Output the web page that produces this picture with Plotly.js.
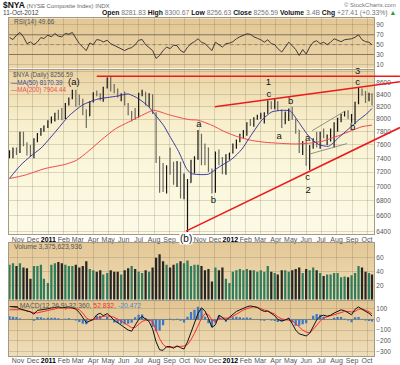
<!DOCTYPE html>
<html><head><meta charset="utf-8">
<script src="https://cdn.plot.ly/plotly-3.0.1.min.js"></script>
<style>html,body{margin:0;padding:0;background:#fff}#chart{width:400px;height:365px}</style>
</head><body><div id="chart"></div>
<script>
// ---------- DATA (weekly readings from the picture) ----------
const weeks = ['2010-10-15','2010-10-22','2010-10-29','2010-11-05','2010-11-12','2010-11-19','2010-11-26','2010-12-03','2010-12-10','2010-12-17','2010-12-23','2010-12-31',
'2011-01-07','2011-01-14','2011-01-21','2011-01-28','2011-02-04','2011-02-11','2011-02-18','2011-02-25','2011-03-04','2011-03-11','2011-03-18','2011-03-25',
'2011-04-01','2011-04-08','2011-04-15','2011-04-21','2011-04-29','2011-05-06','2011-05-13','2011-05-20','2011-05-27','2011-06-03','2011-06-10','2011-06-17',
'2011-06-24','2011-07-01','2011-07-08','2011-07-15','2011-07-22','2011-07-29','2011-08-05','2011-08-12','2011-08-19','2011-08-26','2011-09-02','2011-09-09',
'2011-09-16','2011-09-23','2011-09-30','2011-10-07','2011-10-14','2011-10-21','2011-10-28','2011-11-04','2011-11-11','2011-11-18','2011-11-25','2011-12-02',
'2011-12-09','2011-12-16','2011-12-23','2011-12-30','2012-01-06','2012-01-13','2012-01-20','2012-01-27','2012-02-03','2012-02-10','2012-02-17','2012-02-24',
'2012-03-02','2012-03-09','2012-03-16','2012-03-23','2012-03-30','2012-04-05','2012-04-13','2012-04-20','2012-04-27','2012-05-04','2012-05-11','2012-05-18',
'2012-05-25','2012-06-01','2012-06-08','2012-06-15','2012-06-22','2012-06-29','2012-07-06','2012-07-13','2012-07-20','2012-07-27','2012-08-03','2012-08-10',
'2012-08-17','2012-08-24','2012-08-31','2012-09-07','2012-09-14','2012-09-21','2012-09-28','2012-10-05','2012-10-11'];

const priceOpen = [7450,7480,7500,7490,7790,7600,7560,7440,7690,7760,7830,7890,
7964,7980,8090,8030,8020,8250,8340,8470,8330,8300,8150,8050,
8280,8420,8400,8350,8520,8680,8520,8450,8390,8400,8240,8080,
8080,8030,8420,8440,8260,8400,8100,7420,7220,6980,7260,7210,
7060,7330,6880,6900,7050,7360,7400,7760,7560,7550,7240,6920,
7470,7400,7210,7450,7480,7580,7650,7760,7800,7940,7930,8010,
8050,8060,8090,8280,8200,8240,8150,7980,8050,8150,8000,7830,
7500,7620,7300,7580,7690,7600,7790,7720,7740,7740,7930,8010,
8070,8110,8060,8070,8270,8490,8440,8340,8400];
const priceHigh = [7520,7560,7560,7800,7800,7640,7600,7700,7780,7860,7900,7980,
8040,8100,8150,8180,8260,8350,8480,8480,8400,8330,8160,8290,
8440,8470,8420,8530,8690,8718,8580,8500,8420,8450,8260,8130,
8180,8430,8480,8440,8420,8400,8110,7430,7330,7300,7560,7350,
7360,7350,7180,7100,7380,7430,7830,7770,7620,7560,7250,7500,
7530,7420,7460,7480,7620,7680,7770,7830,7950,8000,8030,8070,
8100,8110,8300,8290,8340,8290,8150,8120,8170,8200,8000,7830,
7660,7660,7600,7700,7800,7800,7850,7760,7850,7950,8020,8080,
8130,8140,8080,8280,8510,8500,8460,8430,8420];
const priceLow = [7400,7400,7450,7480,7580,7440,7420,7400,7640,7740,7800,7860,
7930,7960,7990,7980,8000,8220,8320,8200,8220,8060,7860,8050,
8270,8370,8300,8280,8500,8450,8420,8350,8290,8220,8060,7960,
7990,8030,8370,8220,8200,8080,7330,6910,6920,6900,7160,7020,
6990,6830,6820,6390,7050,7180,7380,7300,7300,7200,6900,6910,
7300,7170,7160,7380,7470,7540,7640,7700,7740,7890,7880,7990,
8000,7930,8090,8160,8160,8130,7860,7920,7970,7990,7770,7480,
7450,7290,7230,7540,7560,7540,7700,7600,7650,7560,7800,7950,
8040,8000,7940,7920,8240,8380,8260,8290,8220];
const priceClose = [7480,7500,7490,7790,7600,7560,7440,7690,7760,7830,7890,7964,
7980,8090,8030,8020,8250,8340,8470,8330,8300,8150,8050,8280,
8420,8400,8350,8520,8680,8520,8450,8390,8400,8240,8080,8080,
8030,8420,8440,8260,8400,8100,7420,7220,6980,7260,7210,7060,
7330,6880,6900,7050,7360,7400,7760,7560,7550,7240,6920,7470,
7400,7210,7450,7480,7580,7650,7760,7800,7940,7930,8010,8050,
8060,8090,8280,8200,8240,8150,7980,8050,8150,8000,7830,7500,
7620,7300,7580,7690,7600,7790,7720,7740,7740,7930,8010,8070,
8110,8060,8070,8270,8490,8440,8340,8400,8256.59];

const rsi14 = [64.5,60.4,69.3,74.8,65.7,52,55.4,50,55.4,64.5,62.4,69.3,
65.7,72.8,67.2,66,72.8,71.3,74.8,62.4,52,45,38,53.3,
50,60.4,58.9,55.4,58.9,52,48.6,45,42,38,41.7,44,
50,58.9,60.4,50,44,38,22,28,38,45,42,48.6,
48,38,34,45,52,56,62,55,52,45,38,55,
50,45,52,53,56,62,66,69,72,71,66,63,
60,55,60,52,50,42,35,45,55,48,40,28,
40,31,45,55,58,52,55,50,55,62,59,56,
60,61,62,65,70,60,56,55,49.66];

const volume = [50,52,48,52,46,45,30,48,48,50,30,24,
50,52,54,52,50,48,48,50,46,48,55,44,
42,40,42,36,38,42,40,40,36,42,45,48,
44,40,38,42,40,46,60,65,55,50,46,50,
52,55,52,56,48,50,50,48,42,44,26,46,
42,46,30,24,40,42,44,42,44,42,42,40,
42,40,48,40,38,36,42,42,40,42,44,46,
38,44,42,46,42,38,34,36,36,38,38,32,
33,32,35,38,48,46,40,38,36];

const macdLine = [121,118,115,100,88,80,72,50,85,90,90,100,
108,116,118,110,115,118,110,95,65,20,-30,-15,
0,44,58,35,55,25,-8,-30,-55,-80,-100,-110,
-55,0,28,5,-20,-90,-210,-285,-290,-255,-255,-270,
-248,-265,-278,-210,-120,-40,55,110,80,10,-75,-50,
40,20,-10,20,50,75,90,105,118,127,122,112,
90,75,78,55,35,0,-15,-5,10,-40,-100,-135,
-145,-155,-130,-60,-5,30,40,30,40,60,78,90,
82,65,44,95,118,95,78,58,32.36];
const macdSignal = [90,92,93,92,88,80,70,62,62,70,78,85,
92,100,106,108,108,108,108,104,90,60,15,-5,
-3,10,25,30,32,30,20,5,-15,-35,-60,-78,
-75,-45,-18,-8,-5,-20,-100,-180,-235,-260,-262,-262,
-255,-252,-250,-235,-190,-130,-64,10,55,45,-5,-18,
5,14,12,14,30,50,70,88,100,110,121,115,
100,88,80,65,50,25,5,-2,-5,-12,-40,-75,
-100,-120,-124,-95,-55,-15,14,28,35,44,55,68,
75,75,70,75,95,100,88,72,52.83];
const macdHist = [31,26,22,8,0,0,2,-12,23,20,12,15,
16,16,12,2,7,10,2,-9,-25,-40,-45,-10,
3,34,33,5,23,-5,-28,-35,-40,-45,-40,-32,
20,45,46,13,-15,-70,-110,-105,-55,5,7,-8,
7,-13,-28,25,70,90,119,100,25,-35,-70,-32,
35,6,-22,6,20,25,20,17,18,17,1,-3,
-10,-13,-2,-10,-15,-25,-20,-3,15,-28,-60,-60,
-45,-35,-6,35,50,45,26,2,5,16,23,22,
7,-10,-26,20,23,-5,-10,-14,-20.47];

const ma50Dates = ['2010-10-15','2010-11-05','2010-11-26','2010-12-17','2011-01-14','2011-02-11','2011-03-11','2011-04-08','2011-04-29','2011-05-20','2011-06-10','2011-07-01','2011-07-21','2011-08-03','2011-08-20','2011-08-30','2011-09-19','2011-10-05','2011-10-14','2011-10-28','2011-11-18','2011-12-07','2012-01-04','2012-01-24','2012-02-13','2012-03-04','2012-03-24','2012-04-13','2012-04-30','2012-05-17','2012-06-06','2012-06-26','2012-07-16','2012-08-05','2012-08-25','2012-09-14','2012-10-01','2012-10-11'];
const ma50Vals = [7110,7290,7430,7550,7790,8050,8230,8320,8350,8375,8410,8330,8200,8070,7900,7765,7503,7250,7180,7165,7170,7263,7389,7535,7764,7983,8115,8140,8130,7950,7733,7606,7580,7710,7845,7983,8090,8170.39];
const ma200Dates = ['2010-10-15','2010-11-15','2010-12-25','2011-02-03','2011-02-26','2011-03-22','2011-04-18','2011-05-15','2011-06-10','2011-07-07','2011-07-31','2011-08-30','2011-09-25','2011-10-12','2011-10-28','2011-11-25','2011-12-21','2012-01-17','2012-02-13','2012-03-10','2012-04-06','2012-05-10','2012-06-06','2012-07-03','2012-07-29','2012-08-25','2012-09-21','2012-10-11'];
const ma200Vals = [7108,7156,7250,7310,7369,7503,7680,7845,7950,8058,8140,8071,8017,7990,7983,7902,7800,7720,7667,7640,7625,7614,7625,7655,7720,7800,7880,7904.44];

// hand-drawn trend lines (date, price)
const resistDates = ['2011-04-08','2012-12-06'], resistVals = [8710,8710];
const upperDates = ['2011-12-01','2012-12-06'], upperVals = [8199,8617];
const lowerDates = ['2011-10-04','2012-12-06'], lowerVals = [6402,7867];
const chanUpDates = ['2012-06-13','2012-08-18'], chanUpVals = [7818,8130];
const chanLoDates = ['2012-06-09','2012-08-22'], chanLoVals = [7465,7620];

// wave labels
const waveText  = ['(a)','1','c','b','a','a','b','c','2','a','b','c','3'];
const waveDates = ['2011-02-21','2012-03-17','2012-03-18','2012-05-01','2012-04-08','2011-10-30','2011-11-28','2012-06-04','2012-06-05','2012-06-04','2012-09-02','2012-09-12','2012-09-12'];
const waveVals  = [8595,8610,8405,8288,7720,7906,6802,7120,6944,7694,7859,8595,8797];

const monthTicks = ['2010-11-01','2010-12-01','2011-01-01','2011-02-01','2011-03-01','2011-04-01','2011-05-01','2011-06-01','2011-07-01','2011-08-01','2011-09-01','2011-10-01',
'2011-11-01','2011-12-01','2012-01-01','2012-02-01','2012-03-01','2012-04-01','2012-05-01','2012-06-01','2012-07-01','2012-08-01','2012-09-01','2012-10-01'];
const monthLabels = ['Nov','Dec','<b style="color:#000">2011</b>','Feb','Mar','Apr','May','Jun','Jul','Aug','Sep','Oct',
'Nov','Dec','<b style="color:#000">2012</b>','Feb','Mar','Apr','May','Jun','Jul','Aug','Sep','Oct'];
// under the price panel the Oct-2011 label is covered by the "(b)" wave mark
const monthLabelsMain = ['Nov','Dec','<b style="color:#000">2011</b>','Feb','Mar','Apr','May','Jun','Jul','Aug','Sep','',
'Nov','Dec','<b style="color:#000">2012</b>','Feb','Mar','Apr','May','Jun','Jul','Aug','Sep','Oct'];
const priceTicks = [6400,6600,6800,7000,7200,7400,7600,7800,8000,8200,8400,8600,8800];
const priceTickText = ['6400','6600','6800','7000','7200','7400','7600','7800','8000','8200','8400','8600',''];
const rsiTicks = [10,30,50,70,90];
const volTicks = [20,40,60];
const macdTicks = [-300,-200,-100,0,100];

// ---------- LAYOUT ----------
const W = 400, H = 365;
const FONT = 'Liberation Sans, Arial, sans-serif';
const xDom = [8.5/W, 374/W];
const xStart = '2010-10-13', xEnd = '2012-10-15';
const dom = (top, bot) => [1 - bot/H, 1 - top/H];
const dRSI = dom(18.3, 68.5), dMain = dom(69.5, 234.3), dVol = dom(243, 299.7), dMacd = dom(301, 356);
const mainRange = [Math.log10(6362), Math.log10(8829)];

// extended x scale (same date scale, wider domain) so trend lines run to the right edge
const t0 = Date.parse(xStart), t1 = Date.parse(xEnd);
const t5 = t0 + (t1 - t0) * (1 - xDom[0]) / (xDom[1] - xDom[0]);
const x5End = new Date(t5).toISOString().replace('T', ' ').replace('Z', '');

const gridC = 'rgba(110,95,70,0.22)';
const lineC = '#a59a85';
function xa(anchor, labels, texts) {
  return {domain: xDom, anchor: anchor, type: 'date', range: [xStart, xEnd], rangeslider: {visible: false},
    tickmode: 'array', tickvals: monthTicks, ticktext: texts || monthLabels, showticklabels: labels, tickangle: 0,
    tickfont: {size: 7, color: '#555', family: FONT}, ticks: '', ticklabelstandoff: -2, showgrid: true, gridcolor: gridC,
    showline: true, mirror: true, linecolor: lineC, linewidth: 1, zeroline: false, fixedrange: true};
}
function ya(anchor, domain, range, tv, tt, type) {
  const o = {domain: domain, anchor: anchor, range: range, side: 'right', tickmode: 'array', tickvals: tv,
    tickfont: {size: 6.5, color: '#555', family: FONT}, ticks: '', showgrid: true, gridcolor: gridC,
    showline: true, mirror: true, linecolor: lineC, linewidth: 1, zeroline: false, fixedrange: true};
  if (tt) o.ticktext = tt;
  if (type) o.type = type;
  return o;
}
function grad(stops) {
  const s = stops.map(a => '<stop offset="' + a[0] + '" stop-color="' + a[1] + '"/>').join('');
  const svg = '<svg xmlns="http://www.w3.org/2000/svg" width="10" height="100" preserveAspectRatio="none">' +
    '<defs><linearGradient id="g" x1="0" y1="0" x2="0" y2="1">' + s + '</linearGradient></defs>' +
    '<rect width="10" height="100" fill="url(#g)"/></svg>';
  return 'data:image/svg+xml;base64,' + btoa(svg);
}
function bgImg(d, stops) {
  return {source: grad(stops), xref: 'paper', yref: 'paper', x: xDom[0], y: d[1],
    sizex: xDom[1] - xDom[0], sizey: d[1] - d[0], sizing: 'stretch', xanchor: 'left', yanchor: 'top', layer: 'below'};
}

const volColors = priceClose.map((c, i) => c >= priceOpen[i] ? '#2f7d5c' : '#262626');

const traces = [
  {type: 'scatter', mode: 'lines', x: weeks, y: rsi14, xaxis: 'x', yaxis: 'y', line: {color: '#2b2b2b', width: 0.9}, hoverinfo: 'skip'},
  {type: 'scatter', mode: 'lines', x: ma200Dates, y: ma200Vals, xaxis: 'x2', yaxis: 'y2', line: {color: '#f04a4a', width: 1, shape: 'spline', smoothing: 0.6}, hoverinfo: 'skip'},
  {type: 'scatter', mode: 'lines', x: ma50Dates, y: ma50Vals, xaxis: 'x2', yaxis: 'y2', line: {color: '#3a3a9e', width: 1, shape: 'spline', smoothing: 0.6}, hoverinfo: 'skip'},
  {type: 'ohlc', x: weeks, open: priceOpen, high: priceHigh, low: priceLow, close: priceClose, xaxis: 'x2', yaxis: 'y2',
   increasing: {line: {color: '#151515', width: 1.2}}, decreasing: {line: {color: '#6a6a62', width: 1.2}}, tickwidth: 0.22, hoverinfo: 'skip'},
  {type: 'bar', x: weeks, y: volume, xaxis: 'x3', yaxis: 'y3', marker: {color: volColors, line: {width: 0}}, hoverinfo: 'skip'},
  {type: 'bar', x: weeks, y: macdHist, xaxis: 'x4', yaxis: 'y4', marker: {color: '#3a78c8', line: {width: 0}}, hoverinfo: 'skip'},
  {type: 'scatter', mode: 'lines', x: weeks, y: macdSignal, xaxis: 'x4', yaxis: 'y4', line: {color: '#ff2a2a', width: 1}, hoverinfo: 'skip'},
  {type: 'scatter', mode: 'lines', x: weeks, y: macdLine, xaxis: 'x4', yaxis: 'y4', line: {color: '#111', width: 1}, hoverinfo: 'skip'},
  {type: 'scatter', mode: 'lines', x: chanUpDates, y: chanUpVals, xaxis: 'x5', yaxis: 'y5', line: {color: '#7a7a70', width: 0.8}, hoverinfo: 'skip'},
  {type: 'scatter', mode: 'lines', x: chanLoDates, y: chanLoVals, xaxis: 'x5', yaxis: 'y5', line: {color: '#7a7a70', width: 0.8}, hoverinfo: 'skip'},
  {type: 'scatter', mode: 'lines', x: resistDates, y: resistVals, xaxis: 'x5', yaxis: 'y5', line: {color: '#ee1a1a', width: 1.6}, hoverinfo: 'skip'},
  {type: 'scatter', mode: 'lines', x: upperDates, y: upperVals, xaxis: 'x5', yaxis: 'y5', line: {color: '#ee1a1a', width: 1.6}, hoverinfo: 'skip'},
  {type: 'scatter', mode: 'lines', x: lowerDates, y: lowerVals, xaxis: 'x5', yaxis: 'y5', line: {color: '#ee1a1a', width: 1.6}, hoverinfo: 'skip'},
  {type: 'scatter', mode: 'text', x: waveDates, y: waveVals, text: waveText, xaxis: 'x2', yaxis: 'y2', cliponaxis: false,
   textfont: {size: 9.5, color: '#111', family: FONT}, textposition: 'middle center', hoverinfo: 'skip'}
];

const ann = (x, y, text, size, color, anchor, extra) => Object.assign({xref: 'paper', yref: 'paper', x: x, y: y, text: text, showarrow: false,
  xanchor: anchor || 'left', yanchor: 'middle', font: {size: size, color: color, family: FONT}, borderpad: 0}, extra || {});

const layout = {
  width: W, height: H, margin: {l: 0, r: 0, t: 0, b: 0},
  paper_bgcolor: '#ffffff', plot_bgcolor: 'rgba(0,0,0,0)', showlegend: false,
  font: {family: FONT, size: 7, color: '#555'}, bargap: 0.25,
  xaxis: xa('y', false), xaxis2: xa('y2', true, monthLabelsMain), xaxis3: xa('y3', false), xaxis4: xa('y4', true),
  xaxis5: {domain: [xDom[0], 1], anchor: 'y5', type: 'date', range: [xStart, x5End], visible: false, fixedrange: true, rangeslider: {visible: false}},
  yaxis: ya('x', dRSI, [1.5, 103.6], rsiTicks),
  yaxis2: ya('x2', dMain, mainRange, priceTicks, priceTickText, 'log'),
  yaxis3: ya('x3', dVol, [0, 81], volTicks),
  yaxis4: ya('x4', dMacd, [-343, 173], macdTicks),
  yaxis5: {domain: dMain, anchor: 'x5', type: 'log', range: mainRange, visible: false, fixedrange: true},
  images: [
    bgImg(dRSI, [[0, '#e3c795'], [1, '#ecd6ab']]),
    bgImg(dMain, [[0, '#ead3a3'], [0.3, '#f7eecb'], [0.6, '#fbf7dc'], [1, '#fcfae6']]),
    bgImg(dVol, [[0, '#e4c897'], [1, '#efddb6']]),
    bgImg(dMacd, [[0, '#e2c592'], [1, '#efdeba']])
  ],
  shapes: [
    {type: 'line', xref: 'x', yref: 'y', x0: xStart, x1: xEnd, y0: 70, y1: 70, line: {color: '#8c7f68', width: 1}, layer: 'below'},
    {type: 'line', xref: 'x', yref: 'y', x0: xStart, x1: xEnd, y0: 30, y1: 30, line: {color: '#8c7f68', width: 1}, layer: 'below'},
    {type: 'line', xref: 'x', yref: 'y', x0: xStart, x1: xEnd, y0: 50, y1: 50, line: {color: '#9c8f78', width: 1, dash: 'dot'}, layer: 'below'},
    {type: 'line', xref: 'x4', yref: 'y4', x0: xStart, x1: xEnd, y0: 0, y1: 0, line: {color: '#9a9080', width: 1}, layer: 'below'}
  ],
  annotations: [
    ann(0.005, 1 - 5/H, '<b style="font-size:8.5px;color:#111">$NYA</b> (NYSE Composite Index) INDX', 6, '#666'),
    ann(0.005, 1 - 13/H, '11-Oct-2012', 6.5, '#444'),
    ann(0.993, 1 - 5/H, '© StockCharts.com', 6, '#777', 'right'),
    ann(0.993, 1 - 13/H, '<b>Open</b> <span style="color:#777">8281.83</span> <b>High</b> <span style="color:#777">8300.67</span> <b>Low</b> <span style="color:#777">8256.63</span> <b>Close</b> <span style="color:#777">8256.59</span> <b>Volume</b> <span style="color:#777">3.4B</span> <b>Chg</b> <span style="color:#777">+27.41 (+0.33%)</span> <span style="color:#2a9a3a">▲</span>', 6.8, '#111', 'right'),
    ann(13/W, 1 - 21.5/H, 'RSI(14) 49.66', 6.5, '#555'),
    ann(11.5/W, 1 - 74.7/H, '$NYA (Daily) 8256.59', 6.3, '#555'),
    ann(9.5/W, 1 - 82.5/H, '<span style="color:#3a3a9e">—</span>MA(50) 8170.39', 6.3, '#4a4a8a'),
    ann(9.5/W, 1 - 90/H, '<span style="color:#f04a4a">—</span>MA(200) 7904.44', 6.3, '#e85050'),
    ann(13/W, 1 - 246.5/H, 'Volume 3,375,623,936', 6.8, '#555'),
    ann(9.5/W, 1 - 306/H, '<b style="color:#111">—</b> MACD(12,26,9) 32.360, <span style="color:#e83030">52.832,</span> <span style="color:#4a88d8">-20.472</span>', 6.8, '#555'),
    {xref: 'x2', yref: 'paper', x: '2011-10-04', y: 1 - 238.3/H, text: '(b)', showarrow: false, xanchor: 'center', yanchor: 'middle',
     font: {size: 10, color: '#111', family: FONT}, bgcolor: '#ffffff', borderpad: 0}
  ]
};

Plotly.newPlot('chart', traces, layout, {staticPlot: true, displayModeBar: false});
</script>
</body></html>
